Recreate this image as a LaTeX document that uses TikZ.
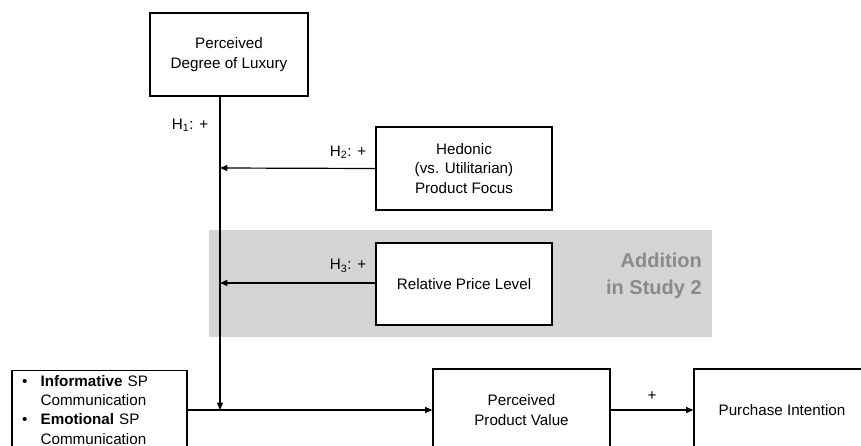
\documentclass[tikz,border=0pt]{standalone}
\usepackage{fontspec}
\setmainfont{Liberation Sans}
\usetikzlibrary{arrows.meta}
\definecolor{bandgray}{HTML}{D4D4D4}
\definecolor{addgray}{HTML}{8A8A8A}
\tikzset{
  box/.style={draw=black, line width=0.9pt, fill=white, inner sep=0pt, align=center,
    font=\fontsize{11.4}{14.4}\selectfont},
  conn/.style={line width=0.9pt, -{Triangle[length=5.5pt,width=4.5pt]}},
  lbl/.style={inner sep=0pt, font=\fontsize{11.4}{14}\selectfont}
}
\begin{document}
\begin{tikzpicture}[x=0.75pt,y=-0.75pt]
\useasboundingbox (0,0) rectangle (861,446);
\begin{scope}
\clip (0,0) rectangle (861,446);
\node[fill=bandgray, minimum width=377.25pt, minimum height=80.25pt, inner sep=0pt] (band) at (460.5,283.5) {};
\node[anchor=east, align=right, text=addgray, inner sep=0pt,
  font=\fontsize{15}{20.5}\selectfont\bfseries] (add) at (702,275.5) {Addition\\in Study 2};

\node[box, minimum width=118.5pt, minimum height=62.25pt] (lux) at (229,54.5) {Perceived\\Degree of Luxury};
\node[box, minimum width=132pt, minimum height=62.25pt] (hed) at (464,168.5) {Hedonic\\(vs. Utilitarian)\\Product Focus};
\node[box, minimum width=132pt, minimum height=61.5pt] (rpl) at (464,284) {Relative Price Level};
\node[box, minimum width=131.25pt, minimum height=61.5pt, inner xsep=7.5pt, inner ysep=0pt,
  text width=116.25pt, align=left] (comm) at (99.5,411.5)
  {\begin{tabular}{@{}l@{\hspace{10pt}}l@{}}
   \textbullet & \textbf{Informative} SP\\
               & Communication\\
   \textbullet & \textbf{Emotional} SP\\
               & Communication
   \end{tabular}};
\node[box, minimum width=132.75pt, minimum height=61.5pt] (ppv) at (521.5,410) {Perceived\\Product Value};
\node[box, minimum width=132pt, minimum height=61.5pt] (pi) at (782,410) {Purchase Intention};

\coordinate (j) at (220,410);
\coordinate (jh) at (220,168);
\coordinate (jr) at (220,283);

\draw[conn] (lux.south -| j) -- (j);
\draw[conn] (hed.west) -- (jh);
\draw[conn] (rpl.west |- jr) -- (jr);
\draw[conn] (comm.east |- j) -- (ppv.west);
\draw[conn] (ppv.east) -- (pi.west);

\node[lbl] (h1) at (190,125) {H\textsubscript{1}: +};
\node[lbl] (h2) at (348,152) {H\textsubscript{2}: +};
\node[lbl] (h3) at (348,266) {H\textsubscript{3}: +};
\node[lbl] (plus) at (652,396) {+};
\end{scope}
\end{tikzpicture}
\end{document}
